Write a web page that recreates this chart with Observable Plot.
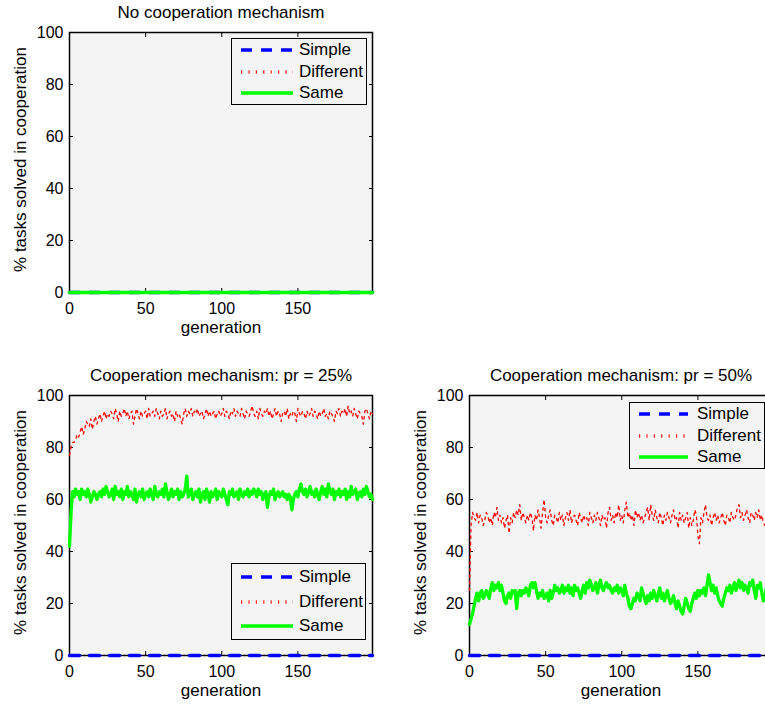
<!DOCTYPE html>
<html>
<head>
<meta charset="utf-8">
<script src="https://cdn.jsdelivr.net/npm/d3@7"></script>
<script src="https://cdn.jsdelivr.net/npm/@observablehq/plot@0.6"></script>
<style>
html, body { margin: 0; padding: 0; background: #fff; }
#chart { position: relative; width: 765px; height: 704px; overflow: hidden;
  font-family: "Liberation Sans", Arial, Helvetica, sans-serif; color: #000; }
.panel { position: absolute; width: 380px; height: 340px; }
.legend { position: absolute; border: 1px solid #000; background: #f4f4f4; box-sizing: border-box; font-size: 17px; }
.legend .row { position: absolute; left: 0; display: flex; align-items: center; transform: translateY(-50%); white-space: nowrap; }
.legend svg { display: block; }
</style>
</head>
<body>
<div id="chart"></div>
<script>
// ---------- data ----------
const seriesNames = ["Simple", "Different", "Same"];
const panelTitles = ["No cooperation mechanism", "Cooperation mechanism: pr = 25%", "Cooperation mechanism: pr = 50%"];
const xLabel = "generation";
const yLabel = "% tasks solved in cooperation";
const xTicks = [0, 50, 100, 150];
const yTicks = [0, 20, 40, 60, 80, 100];
const generations = d3.range(200);

// series that stay at 0 % for all 200 generations
const allZero = [
0,0,0,0,0,0,0,0,0,0,0,0,0,0,0,0,0,0,0,0,
0,0,0,0,0,0,0,0,0,0,0,0,0,0,0,0,0,0,0,0,
0,0,0,0,0,0,0,0,0,0,0,0,0,0,0,0,0,0,0,0,
0,0,0,0,0,0,0,0,0,0,0,0,0,0,0,0,0,0,0,0,
0,0,0,0,0,0,0,0,0,0,0,0,0,0,0,0,0,0,0,0,
0,0,0,0,0,0,0,0,0,0,0,0,0,0,0,0,0,0,0,0,
0,0,0,0,0,0,0,0,0,0,0,0,0,0,0,0,0,0,0,0,
0,0,0,0,0,0,0,0,0,0,0,0,0,0,0,0,0,0,0,0,
0,0,0,0,0,0,0,0,0,0,0,0,0,0,0,0,0,0,0,0,
0,0,0,0,0,0,0,0,0,0,0,0,0,0,0,0,0,0,0,0
];

// pr = 25 %
const pr25Different = [
77,80,82,82,83,85,84,86,88,85,87,90,89,88,91,87,90,92,89,91,
93,90,92,94,91,93,92,94,93,91,95,93,90,94,92,93,95,92,94,91,
93,94,89,92,95,93,91,94,92,93,94,91,95,92,93,94,92,95,93,91,
94,92,93,95,91,93,94,92,93,90,94,92,93,91,89,93,95,92,94,93,
95,92,94,93,95,92,93,94,91,93,95,92,94,92,93,94,91,93,94,92,
93,95,92,94,93,91,94,93,95,92,94,93,92,95,93,91,94,93,92,94,
96,93,92,94,91,95,93,92,94,93,95,92,94,91,93,95,92,94,93,90,
93,94,92,95,91,93,92,94,93,90,95,93,92,94,93,91,94,92,93,95,
92,94,93,91,94,92,93,95,92,93,91,94,93,92,90,94,93,95,92,94,
93,95,92,96,93,94,92,95,93,91,94,93,92,89,94,95,93,91,94,93
];
const pr25Same = [
42,55,63,61,64,62,63,60,64,62,63,61,64,62,59,61,63,62,60,62,
63,61,64,62,65,63,61,62,64,60,65,62,63,61,64,60,63,62,65,61,
63,62,60,64,59,62,63,61,64,60,62,63,61,64,62,60,65,62,61,63,
62,64,61,66,63,60,62,64,61,63,62,64,60,63,61,62,64,69,61,62,
64,60,62,63,61,64,59,62,63,60,64,62,59,63,61,62,64,60,63,62,
61,64,62,60,58,63,62,64,61,62,63,60,64,62,61,63,62,64,61,63,
62,64,63,61,64,62,63,60,62,63,57,61,63,62,64,60,62,63,61,62,
63,61,62,60,62,61,56,60,62,63,61,64,66,63,62,64,61,63,65,62,
63,61,64,62,60,63,65,62,64,61,66,63,62,64,60,63,62,64,61,63,
62,64,60,63,61,65,62,63,64,60,62,63,61,64,62,65,63,61,62,60
];

// pr = 50 %
const pr50Different = [
25,50,55,53,52,55,51,54,53,50,52,55,54,51,53,50,55,53,57,52,
54,51,53,49,52,54,47,53,51,55,53,56,54,58,52,55,53,51,54,52,
55,53,48,54,52,56,53,49,55,60,53,51,54,56,52,50,54,53,51,55,
52,54,50,53,55,52,56,51,53,54,52,50,55,53,51,54,52,53,50,55,
53,51,54,52,55,53,50,54,52,53,49,55,57,52,54,51,55,53,58,52,
54,51,56,59,53,55,52,54,50,56,53,55,52,54,51,53,55,57,52,58,
54,52,56,53,51,55,53,50,54,52,55,53,51,54,56,52,53,49,55,52,
54,51,53,55,49,53,50,52,56,54,46,43,53,51,55,58,53,52,54,50,
53,55,52,54,51,53,55,52,50,54,53,51,55,53,52,54,57,58,53,55,
52,54,56,53,51,55,54,52,55,53,56,52,54,51,50,53,54,52,49,48
];
const pr50Same = [
12,14,16,19,22,24,21,24,25,22,23,25,24,22,26,28,25,27,26,28,
25,27,24,21,20,23,24,22,25,24,25,18,24,25,23,25,24,26,25,23,
27,28,26,28,25,22,24,23,25,22,23,24,21,25,22,24,27,25,26,24,
25,27,24,26,25,27,24,26,23,27,25,26,24,22,25,27,24,28,26,29,
27,25,26,28,24,27,29,26,25,27,28,26,27,25,24,26,25,27,24,26,
25,23,27,24,22,19,18,20,22,21,24,23,21,26,24,22,20,23,21,24,
22,25,23,21,24,26,22,24,21,23,25,22,20,21,23,20,18,21,19,17,
16,19,22,20,18,17,20,22,24,22,25,23,25,24,26,23,27,31,28,25,
27,24,26,23,21,20,19,22,24,26,25,27,24,26,28,25,27,29,26,28,
25,27,26,24,28,27,29,25,22,27,26,28,24,21,23,26,25,24,26,25
];

// ---------- styles ----------
const FONT = '"Liberation Sans", Arial, Helvetica, sans-serif';
const lineStyles = {
  Simple:    {stroke: "#0000ff", strokeWidth: 3.5, strokeDasharray: "10,10"},
  Different: {stroke: "#ff0000", strokeWidth: 1.3, strokeDasharray: "2.5,4"},
  Same:      {stroke: "#00ff00", strokeWidth: 3.3}
};
const legendStyles = {
  Simple:    {stroke: "#0000ff", width: 3.5, dash: "11,9"},
  Different: {stroke: "#ff2020", width: 3.5, dash: "1.2,6.2"},
  Same:      {stroke: "#00ff00", width: 3.5, dash: null}
};

const chart = document.getElementById("chart");

function drawPanel({left, top, title, series}) {
  const plot = Plot.plot({
    width: 380, height: 340,
    marginTop: 32, marginBottom: 48, marginLeft: 69, marginRight: 8,
    style: {fontFamily: FONT, fontSize: "16px", color: "#000", background: "transparent", overflow: "visible"},
    x: {domain: [0, 199]},
    y: {domain: [0, 100]},
    marks: [
      Plot.frame({fill: "#f4f4f4", stroke: "#000", strokeWidth: 1.5}),
      Plot.axisX({anchor: "bottom", ticks: xTicks, tickSize: -4, tickPadding: 14, label: null, stroke: "#000"}),
      Plot.axisX({anchor: "top", ticks: xTicks, tickSize: -4, tickFormat: () => "", label: null, stroke: "#000"}),
      Plot.axisY({anchor: "left", ticks: yTicks, tickSize: -4, tickPadding: 10, label: null, stroke: "#000"}),
      Plot.axisY({anchor: "right", ticks: yTicks, tickSize: -4, tickFormat: () => "", label: null, stroke: "#000"}),
      ...seriesNames.map(name => Plot.lineY(series[name], {x: generations, ...lineStyles[name]})),
      Plot.text([title], {frameAnchor: "top", lineAnchor: "middle", dy: -20, fontSize: 17, fill: "#000"}),
      Plot.text([xLabel], {frameAnchor: "bottom", lineAnchor: "middle", dy: 35, fontSize: 17, fill: "#000"}),
      Plot.text([yLabel], {frameAnchor: "left", textAnchor: "middle", lineAnchor: "middle", dx: -49, dy: -3, rotate: -90, fontSize: 17, fill: "#000"})
    ]
  });
  const div = document.createElement("div");
  div.className = "panel";
  div.style.left = left + "px";
  div.style.top = top + "px";
  div.appendChild(plot);
  chart.appendChild(div);
}

function drawLegend({left, top, width, height, sampleLeft, sampleWidth, gap}) {
  const box = document.createElement("div");
  box.className = "legend";
  Object.assign(box.style, {left: left + "px", top: top + "px", width: width + "px", height: height + "px"});
  const fr = [0.18, 0.5, 0.82];
  seriesNames.forEach((name, i) => {
    const st = legendStyles[name];
    const row = document.createElement("div");
    row.className = "row";
    row.style.top = (height * fr[i] - 1) + "px";
    row.style.left = sampleLeft + "px";
    row.innerHTML =
      `<svg width="${sampleWidth}" height="10"><line x1="0" x2="${sampleWidth}" y1="5" y2="5" stroke="${st.stroke}" stroke-width="${st.width}" ${st.dash ? `stroke-dasharray="${st.dash}"` : ""}/></svg>` +
      `<span style="margin-left:${gap}px">${name}</span>`;
    box.appendChild(row);
  });
  chart.appendChild(box);
}

drawPanel({left: 0, top: 0, title: panelTitles[0],
  series: {Simple: allZero, Different: allZero, Same: allZero}});
drawPanel({left: 0, top: 363, title: panelTitles[1],
  series: {Simple: allZero, Different: pr25Different, Same: pr25Same}});
drawPanel({left: 400, top: 363, title: panelTitles[2],
  series: {Simple: allZero, Different: pr50Different, Same: pr50Same}});

drawLegend({left: 231, top: 38, width: 136, height: 67, sampleLeft: 9, sampleWidth: 52, gap: 6});
drawLegend({left: 231, top: 563, width: 135, height: 77, sampleLeft: 9, sampleWidth: 52, gap: 6});
drawLegend({left: 629, top: 402, width: 136, height: 67, sampleLeft: 9, sampleWidth: 49, gap: 9});
</script>
</body>
</html>
